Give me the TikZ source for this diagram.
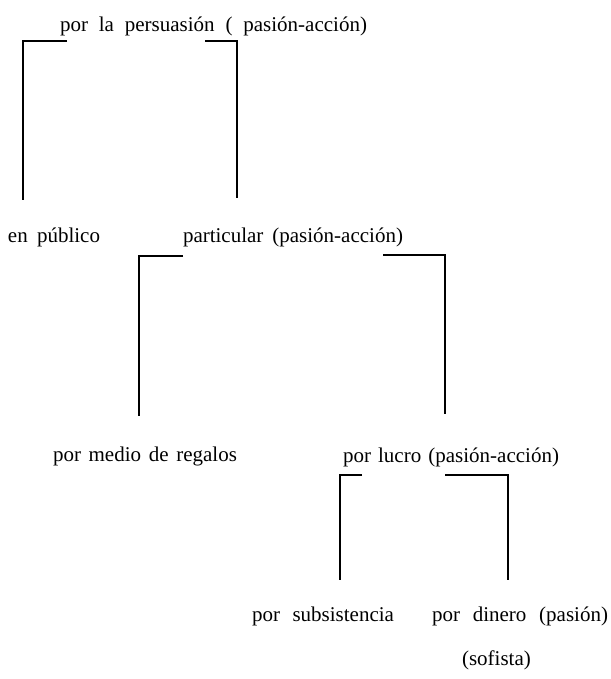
\documentclass[tikz,border=0pt]{standalone}
\usepackage{fontspec}
\setmainfont{Liberation Serif}
\begin{document}
\begin{tikzpicture}[x=1pt,y=-1pt,
  lbl/.style={anchor=base west, inner sep=0pt, outer sep=0pt, font=\fontsize{21}{25}\selectfont},
  brk/.style={line width=1.8pt, line join=miter, line cap=butt}]
\useasboundingbox (0,0) rectangle (610,679);
% texts
\node[lbl] (root) at (60,32) {\makebox[307pt][s]{por la persuasión ( pasión-acción)}};
\node[lbl] (pub) at (8,242) {\makebox[92pt][s]{en público}};
\node[lbl] (part) at (183,242) {\makebox[220pt][s]{particular (pasión-acción)}};
\node[lbl] (reg) at (53,461) {\makebox[184pt][s]{por medio de regalos}};
\node[lbl] (lucro) at (343,462) {\makebox[216pt][s]{por lucro (pasión-acción)}};
\node[lbl] (subs) at (252,621) {\makebox[142pt][s]{por subsistencia}};
\node[lbl] (din) at (432,621) {\makebox[176pt][s]{por dinero (pasión)}};
\node[lbl] (sof) at (462,665) {(sofista)};
% bracket corners
\coordinate (a1) at (67,41);  \coordinate (a2) at (23,200);
\coordinate (b1) at (205,41); \coordinate (b2) at (237,198);
\coordinate (c1) at (183,256); \coordinate (c2) at (139,416);
\coordinate (d1) at (383,255); \coordinate (d2) at (445,414);
\coordinate (e1) at (362,475); \coordinate (e2) at (340,580);
\coordinate (f1) at (445,475); \coordinate (f2) at (508,580);
\draw[brk] (a1) -| (a2);
\draw[brk] (b1) -| (b2);
\draw[brk] (c1) -| (c2);
\draw[brk] (d1) -| (d2);
\draw[brk] (e1) -| (e2);
\draw[brk] (f1) -| (f2);
\end{tikzpicture}
\end{document}
